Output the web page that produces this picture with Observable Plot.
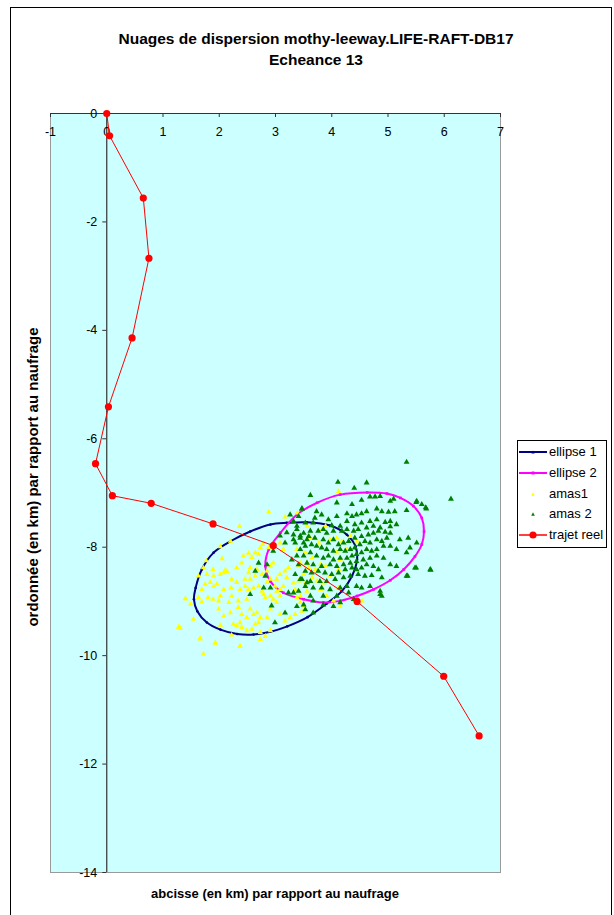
<!DOCTYPE html>
<html><head><meta charset="utf-8">
<script src="https://cdn.jsdelivr.net/npm/d3@7"></script>
<script src="https://cdn.jsdelivr.net/npm/@observablehq/plot@0.6"></script>
<style>
body{margin:0;background:#fff;font-family:"Liberation Sans",Arial,sans-serif;color:#000;}
#wrap{position:relative;width:614px;height:915px;overflow:hidden;}
#border{position:absolute;left:10px;top:7px;width:600px;height:930px;border:1px solid #000;}
.t{position:absolute;left:10px;width:612px;text-align:center;font-weight:bold;font-size:15.5px;line-height:18px;}
#chart{position:absolute;left:0;top:0;}
#xlab{position:absolute;top:886px;left:0;width:550px;text-align:center;font-weight:bold;font-size:13px;line-height:16px;}
#ylab{position:absolute;left:-167px;top:468px;width:400px;text-align:center;font-weight:bold;font-size:15px;line-height:18px;transform:rotate(-90deg);transform-origin:50% 50%;}
#legend{position:absolute;left:517px;top:440px;width:88px;height:106px;border:1px solid #000;background:#fff;}
.le{position:absolute;left:0;height:14px;width:88px;font-size:13px;line-height:14px;}
.le svg{position:absolute;left:0;top:1px;}
.le span{position:absolute;left:31px;top:0;white-space:nowrap;}
</style></head>
<body>
<div id="wrap">
  <div id="border"></div>
  <div id="chart"></div>
  <div class="t" style="top:30px">Nuages de dispersion mothy-leeway.LIFE-RAFT-DB17</div>
  <div class="t" style="top:51px">Echeance 13</div>
  <div id="xlab">abcisse (en km) par rapport au naufrage</div>
  <div id="ylab">ordonnée (en km) par rapport au naufrage</div>
  <div id="legend"></div>
</div>
<script>
// ---------- data ----------
const xTicks = [-1, 0, 1, 2, 3, 4, 5, 6, 7];
const yTicks = [0, -2, -4, -6, -8, -10, -12, -14];

const trajetX = [0, 0.05, 0.65, 0.75, 0.45, 0.03, -0.20, 0.10, 0.79, 1.89, 2.96, 4.45, 5.99, 6.62];
const trajetY = [0, -0.41, -1.56, -2.67, -4.14, -5.41, -6.46, -7.05, -7.19, -7.57, -7.97, -9.00, -10.38, -11.48];

const ellipse1 = [[3.56,-7.54],[3.97,-7.60],[4.27,-7.77],[4.42,-7.98],[4.45,-8.23],[4.36,-8.53],[4.18,-8.81],[3.91,-9.04],[3.57,-9.29],[3.21,-9.46],[2.91,-9.56],[2.61,-9.61],[2.32,-9.60],[2.02,-9.52],[1.78,-9.39],[1.61,-9.18],[1.55,-8.96],[1.58,-8.75],[1.69,-8.41],[1.90,-8.10],[2.20,-7.89],[2.55,-7.71],[2.91,-7.58],[3.20,-7.55]];

const ellipse2 = [[4.63,-6.99],[4.98,-7.01],[5.22,-7.09],[5.45,-7.24],[5.60,-7.46],[5.64,-7.71],[5.60,-7.95],[5.48,-8.17],[5.28,-8.41],[5.04,-8.61],[4.74,-8.78],[4.45,-8.90],[4.15,-8.99],[3.85,-9.02],[3.50,-8.96],[3.14,-8.84],[2.91,-8.63],[2.82,-8.35],[2.88,-8.04],[3.09,-7.73],[3.38,-7.40],[3.74,-7.18],[4.15,-7.03]];

const amas1 = [
[2.88,-7.35],[3.17,-7.44],[2.36,-7.61],[2.02,-7.99],[2.20,-7.89],[2.05,-8.21],[1.77,-8.25],[1.72,-8.38],[1.78,-8.50],[1.63,-8.53],
[1.89,-8.41],[2.11,-8.42],[2.08,-8.47],[2.14,-8.45],[2.02,-8.50],[2.31,-8.38],[2.40,-8.29],[2.43,-8.16],[2.52,-8.11],[2.58,-8.19],
[2.64,-8.10],[2.70,-8.13],[2.73,-8.01],[2.77,-7.95],[2.55,-8.38],[2.67,-8.41],[2.64,-8.53],[2.76,-8.50],[2.85,-8.44],[2.91,-8.35],
[2.96,-8.29],[2.55,-8.59],[2.46,-8.72],[2.37,-8.78],[2.31,-8.65],[2.22,-8.59],[2.21,-8.75],[2.08,-8.78],[2.02,-8.90],[1.90,-8.53],
[1.90,-8.72],[1.89,-8.96],[1.80,-8.93],[1.69,-9.01],[1.63,-8.93],[1.40,-8.95],[1.49,-9.05],[1.54,-9.33],[1.28,-9.47],[1.31,-9.50],
[1.66,-9.68],[1.93,-9.77],[1.72,-9.97],[2.37,-9.82],[2.22,-9.62],[2.25,-9.42],[2.37,-9.39],[2.31,-9.45],[2.02,-9.44],[2.08,-9.27],
[1.99,-9.14],[2.17,-9.02],[2.22,-8.90],[2.34,-8.99],[2.49,-8.96],[2.55,-9.14],[2.61,-9.24],[2.67,-9.21],[2.49,-9.30],[2.73,-9.30],
[2.85,-9.30],[2.91,-9.14],[2.96,-8.96],[3.02,-9.02],[3.08,-8.90],[2.91,-8.90],[2.79,-8.87],[2.85,-8.65],[2.91,-8.59],[3.02,-8.59],
[3.08,-8.50],[3.17,-8.44],[3.23,-8.38],[3.20,-8.56],[3.14,-8.72],[3.08,-8.78],[3.02,-8.81],[2.99,-8.72],[2.73,-9.70],[2.82,-9.64],
[2.91,-9.54],[3.17,-9.36],[3.26,-9.30],[3.35,-9.24],[3.08,-9.24],[3.47,-9.18],[3.50,-9.08],[3.44,-9.02],[2.73,-9.57],[2.58,-9.51],
[2.49,-9.54],[2.40,-9.48],[2.64,-9.42],[2.70,-9.39],[1.84,-8.65],[1.96,-8.68],[2.52,-8.47],[2.61,-8.75],[2.70,-8.72],[2.76,-8.81],
[2.82,-8.93],[2.34,-9.11],[2.40,-9.24],[2.20,-9.21],[1.99,-8.99],[1.69,-8.78],[1.75,-8.68],[2.46,-8.59],[2.52,-8.78],[2.88,-8.01],
[3.08,-7.92],[3.14,-8.04],[3.41,-8.35],[3.56,-8.29],
[4.12,-6.97],[3.39,-7.37],[3.56,-7.61],[3.83,-7.67],[3.89,-7.61],[3.62,-7.83],[3.77,-7.92],[3.97,-7.86],[4.09,-7.83],[4.18,-7.89],
[3.38,-8.04],[3.53,-8.10],[3.65,-8.20],[3.44,-8.29],[3.59,-8.38],[3.71,-8.41],[3.80,-8.32],[3.89,-8.35],[3.50,-8.50],[3.65,-8.56],
[3.41,-8.62],[3.32,-8.66],[3.53,-8.66],[3.74,-8.62],[3.85,-8.66],[3.35,-8.78],[3.56,-8.81],[3.80,-8.78],[3.91,-8.90],[4.03,-8.99],
[4.15,-9.09],[3.44,-8.90],[3.38,-8.93],[3.97,-8.53],[4.12,-8.41],[4.15,-8.23],[4.09,-8.10],[4.27,-8.04],[4.33,-7.80],[4.45,-7.89],
[4.54,-8.99],[4.12,-8.75],
[1.66,-9.69],[1.93,-9.76],[2.37,-9.83],[1.28,-9.48],[1.40,-8.95]
];

const amas2 = [
[5.33,-6.43],[4.11,-6.80],[4.40,-6.91],[4.62,-6.81],[3.62,-7.04],[4.09,-7.18],[4.36,-7.21],[4.53,-7.13],[4.68,-7.07],[4.77,-7.07],
[4.86,-7.06],[5.04,-7.15],[5.10,-7.11],[5.50,-7.17],[5.60,-7.21],[5.68,-7.29],[5.33,-7.32],[5.12,-7.34],[5.01,-7.35],[4.89,-7.34],
[4.80,-7.29],[4.62,-7.34],[4.53,-7.38],[4.44,-7.40],[4.36,-7.43],[4.27,-7.38],[4.09,-7.43],[3.94,-7.49],[3.82,-7.40],[3.70,-7.46],
[3.73,-7.34],[3.47,-7.29],[3.41,-7.43],[3.32,-7.52],[3.53,-7.55],[3.67,-7.55],[4.00,-7.60],[4.15,-7.61],[4.27,-7.52],[4.41,-7.58],
[4.53,-7.55],[4.68,-7.52],[4.80,-7.49],[4.95,-7.54],[5.04,-7.52],[5.15,-7.58],[5.04,-7.62],[4.86,-7.64],[4.74,-7.61],[4.62,-7.64],
[4.47,-7.67],[4.39,-7.70],[4.27,-7.67],[4.18,-7.70],[4.03,-7.70],[3.91,-7.74],[3.85,-7.67],[3.76,-7.70],[3.62,-7.70],[3.50,-7.74],
[3.38,-7.67],[3.32,-7.77],[3.44,-7.83],[3.59,-7.80],[3.70,-7.83],[3.85,-7.86],[3.94,-7.92],[4.03,-7.86],[4.12,-7.95],[4.21,-7.92],
[4.30,-7.89],[4.41,-7.83],[4.53,-7.80],[4.65,-7.77],[4.74,-7.74],[4.83,-7.70],[4.95,-7.72],[5.04,-7.74],[4.98,-7.83],[4.89,-7.89],
[4.80,-7.86],[4.68,-7.92],[4.59,-7.89],[4.50,-7.95],[4.41,-8.01],[4.33,-8.04],[4.24,-8.07],[4.15,-8.04],[4.03,-8.07],[3.91,-8.04],
[3.82,-8.01],[3.73,-7.98],[3.64,-7.95],[3.53,-7.98],[3.44,-8.04],[3.35,-7.92],[5.21,-7.86],[5.36,-7.83],[5.51,-7.92],[5.39,-8.01],
[5.33,-8.10],[5.15,-8.04],[5.04,-7.98],[4.92,-7.98],[4.80,-8.04],[4.71,-8.07],[4.62,-8.04],[4.53,-8.10],[4.44,-8.13],[4.36,-8.16],
[4.27,-8.20],[4.15,-8.20],[4.03,-8.23],[3.94,-8.16],[3.85,-8.20],[3.73,-8.16],[3.62,-8.10],[3.50,-8.16],[3.38,-8.16],[3.29,-8.23],
[3.41,-8.32],[3.56,-8.29],[3.67,-8.32],[3.82,-8.35],[3.97,-8.32],[4.09,-8.35],[4.21,-8.32],[4.33,-8.29],[4.44,-8.26],[4.56,-8.23],
[4.68,-8.20],[4.80,-8.16],[4.92,-8.20],[5.04,-8.32],[5.15,-8.35],[4.83,-8.41],[4.74,-8.35],[4.62,-8.32],[4.53,-8.38],[4.44,-8.41],
[4.36,-8.38],[4.24,-8.41],[4.12,-8.47],[4.00,-8.50],[3.88,-8.47],[3.76,-8.44],[3.64,-8.47],[3.53,-8.44],[3.35,-8.50],[3.44,-8.59],
[3.62,-8.63],[3.79,-8.63],[3.91,-8.63],[4.06,-8.59],[4.21,-8.56],[4.33,-8.53],[4.47,-8.50],[4.59,-8.53],[4.71,-8.52],[4.89,-8.56],
[5.33,-8.53],[5.48,-8.38],[5.75,-8.41],[4.44,-8.72],[4.53,-8.75],[4.68,-8.72],[4.27,-8.72],[4.15,-8.75],[3.97,-8.78],[3.82,-8.75],
[3.67,-8.75],[3.53,-8.72],[3.41,-8.81],[3.32,-8.84],[3.62,-8.90],[3.85,-8.90],[4.09,-8.90],[4.30,-8.84],[4.39,-8.96],[4.15,-9.02],
[3.85,-9.06],[3.67,-8.99],[3.50,-9.06],[3.38,-9.09],[3.53,-9.15],[3.67,-9.21],[4.03,-9.09],[4.86,-8.81],[4.89,-8.90],
[6.12,-7.11],[5.76,-8.42],[5.67,-7.27],[5.51,-7.15],[5.50,-8.38],[5.35,-8.53],[4.86,-8.87],
[3.47,-7.29],[3.26,-7.40],[3.38,-7.61],[3.32,-7.86],[3.44,-7.79],[3.56,-7.86],[3.50,-7.92],[3.17,-7.92],[3.08,-7.79],[3.20,-7.73],
[2.96,-8.07],[2.85,-8.32],[2.70,-8.29],[2.64,-8.44],[2.82,-8.53],[2.91,-8.75],[2.79,-8.75],[2.55,-8.87],[2.93,-9.08],[3.17,-9.21],
[3.56,-8.65],[3.47,-8.59],[3.23,-8.84],[2.99,-9.39]
];

const seriesNames = ["ellipse 1", "ellipse 2", "amas1", "amas 2", "trajet reel"];
const seriesColors = ["#000080", "#FF00FF", "#FFFF00", "#008000", "#FF0000"];

// ---------- chart ----------
const trajet = trajetX.map((x, i) => [x, trajetY[i]]);
const px = d => d[0], py = d => d[1];

const chart = Plot.plot({
  width: 614,
  height: 915,
  marginLeft: 50,
  marginRight: 114,
  marginTop: 113,
  marginBottom: 43,
  style: {background: "transparent", fontFamily: "'Liberation Sans', Arial, sans-serif", color: "#000"},
  x: {domain: [-1, 7], axis: null},
  y: {domain: [-14, 0], axis: null},
  marks: [
    Plot.frame({fill: "#CCFFFF", stroke: "#9a9a9a"}),
    Plot.ruleX([0], {stroke: "#333", strokeWidth: 1.2}),
    Plot.ruleY([0], {stroke: "#333", strokeWidth: 1.2}),
    Plot.ruleX(xTicks, {x: d => d, y1: 0, y2: 0, insetBottom: -4, stroke: "#333"}),
    Plot.ruleY(yTicks, {y: d => d, x1: 0, x2: 0, insetLeft: -4, stroke: "#333"}),
    Plot.text(xTicks, {x: d => d, y: 0, dy: 18, text: d => String(d), fontSize: 12.5, fill: "#000"}),
    Plot.text(yTicks, {x: 0, y: d => d, dx: -9.5, text: d => String(d), textAnchor: "end", fontSize: 12.5, fill: "#000"}),
    Plot.line(ellipse1, {x: px, y: py, curve: "catmull-rom-closed", stroke: seriesColors[0], strokeWidth: 2}),
    Plot.dot(ellipse1, {x: px, y: py, r: 1.3, fill: seriesColors[0], stroke: "none"}),
    Plot.line(ellipse2, {x: px, y: py, curve: "catmull-rom-closed", stroke: seriesColors[1], strokeWidth: 2}),
    Plot.dot(ellipse2, {x: px, y: py, symbol: "square", r: 1.5, fill: seriesColors[1], stroke: "none"}),
    Plot.dot(amas1, {x: px, y: py, symbol: "triangle", r: 2.0, fill: seriesColors[2], stroke: "none"}),
    Plot.dot(amas2, {x: px, y: py, symbol: "triangle", r: 2.2, fill: seriesColors[3], stroke: "none"}),
    Plot.line(trajet, {x: px, y: py, stroke: seriesColors[4], strokeWidth: 1}),
    Plot.dot(trajet, {x: px, y: py, r: 3.6, fill: seriesColors[4], stroke: "none"})
  ]
});
document.getElementById("chart").appendChild(chart);

// ---------- legend ----------
const legend = document.getElementById("legend");
const ns = "http://www.w3.org/2000/svg";
seriesNames.forEach((name, i) => {
  const row = document.createElement("div");
  row.className = "le";
  row.style.top = (4 + i * 20.8) + "px";
  const svg = document.createElementNS(ns, "svg");
  svg.setAttribute("width", 30); svg.setAttribute("height", 12);
  const c = seriesColors[i];
  if (i === 0 || i === 1 || i === 4) {
    const l = document.createElementNS(ns, "line");
    l.setAttribute("x1", 1); l.setAttribute("x2", 29); l.setAttribute("y1", 6); l.setAttribute("y2", 6);
    l.setAttribute("stroke", c); l.setAttribute("stroke-width", i === 4 ? 1.5 : 2);
    svg.appendChild(l);
  }
  if (i === 4) {
    const d = document.createElementNS(ns, "circle");
    d.setAttribute("cx", 15); d.setAttribute("cy", 6); d.setAttribute("r", 3.6); d.setAttribute("fill", c);
    svg.appendChild(d);
  } else if (i === 1) {
    const r = document.createElementNS(ns, "rect");
    r.setAttribute("x", 13.5); r.setAttribute("y", 4.5); r.setAttribute("width", 3); r.setAttribute("height", 3); r.setAttribute("fill", c);
    svg.appendChild(r);
  } else {
    const p = document.createElementNS(ns, "path");
    const s = i === 0 ? 1.6 : 1.8;
    p.setAttribute("d", `M15,${6 - s}L${15 + s},${6 + s}L${15 - s},${6 + s}Z`);
    p.setAttribute("fill", c);
    svg.appendChild(p);
  }
  row.appendChild(svg);
  const t = document.createElement("span");
  t.textContent = name;
  row.appendChild(t);
  legend.appendChild(row);
});
</script>
</body></html>
